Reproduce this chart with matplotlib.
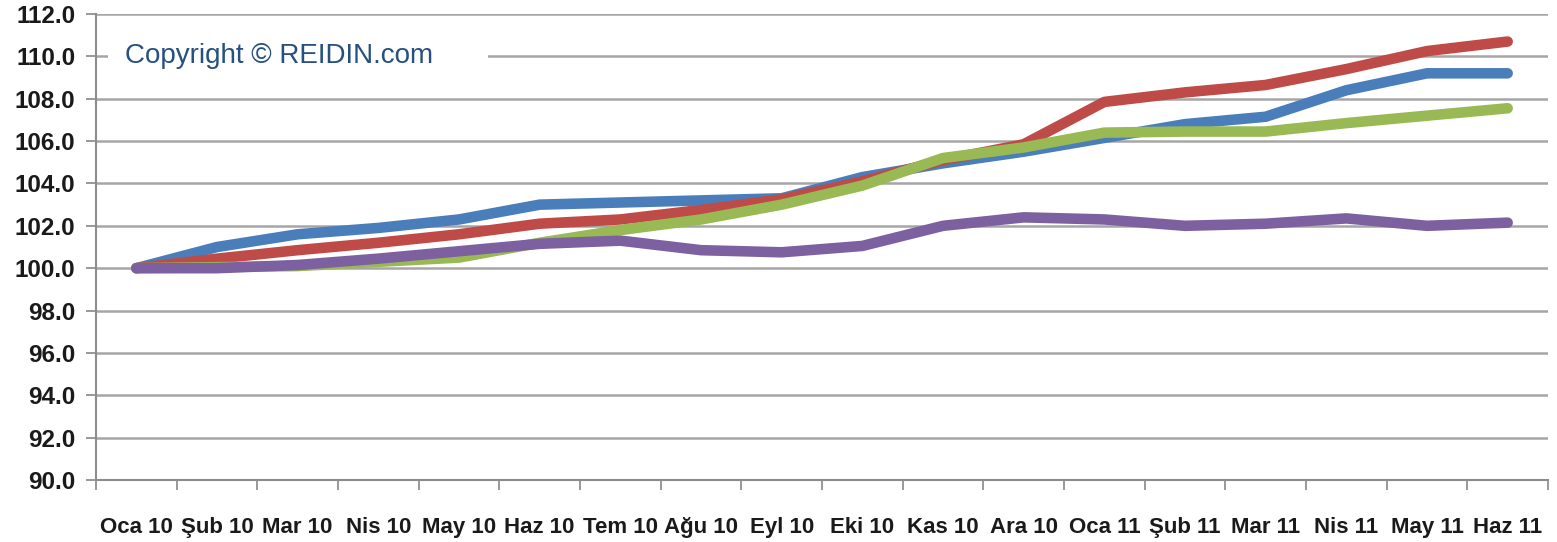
import matplotlib
matplotlib.use("Agg")
import matplotlib.pyplot as plt
from matplotlib.patches import Rectangle
import numpy as np

plt.rcParams['font.family'] = ['Liberation Sans', 'DejaVu Sans']

months = ['Oca 10', 'Şub 10', 'Mar 10', 'Nis 10', 'May 10', 'Haz 10', 'Tem 10', 'Ağu 10', 'Eyl 10',
          'Eki 10', 'Kas 10', 'Ara 10', 'Oca 11', 'Şub 11', 'Mar 11', 'Nis 11', 'May 11', 'Haz 11']

blue = [100.0, 101.0, 101.6, 101.9, 102.3, 103.0, 103.1, 103.2, 103.3,
        104.3, 104.95, 105.5, 106.15, 106.8, 107.15, 108.4, 109.2, 109.2]
red = [100.0, 100.45, 100.85, 101.2, 101.6, 102.1, 102.3, 102.75, 103.25,
       104.1, 105.1, 105.85, 107.85, 108.3, 108.65, 109.4, 110.25, 110.7]
green = [100.0, 100.05, 100.1, 100.3, 100.5, 101.2, 101.8, 102.3, 103.0,
         103.9, 105.2, 105.7, 106.4, 106.45, 106.45, 106.85, 107.2, 107.55]
purple = [100.0, 100.0, 100.15, 100.45, 100.8, 101.15, 101.3, 100.85, 100.75,
          101.05, 102.0, 102.4, 102.3, 102.0, 102.1, 102.35, 102.0, 102.15]

yticks = np.arange(90, 112.1, 2)

fig = plt.figure(figsize=(15.57, 5.42), dpi=100)
ax = fig.add_axes([96 / 1557, 1 - 480 / 542, 1452 / 1557, 466 / 542])

x = np.arange(len(months))
for vals, col in [(blue, '#4A7EBB'), (red, '#BE4B48'), (green, '#98B954'), (purple, '#7D60A0')]:
    ax.plot(x, vals, color=col, lw=7.6, solid_capstyle='round', solid_joinstyle='round', zorder=3)

ax.set_xlim(-0.5, len(months) - 0.5)
ax.set_ylim(90, 112)
ax.set_yticks(yticks)
ax.set_yticklabels([f'{v:.1f}' for v in yticks], fontsize=17.5, fontweight='bold', color='#1a1a1a')
ax.set_xticks(x)
ax.set_xticklabels(months, fontsize=16, fontweight='bold', color='#1a1a1a')
for lab in ax.get_xticklabels():
    lab.set_verticalalignment('baseline')
ax.set_xticks(np.arange(-0.5, len(months)), minor=True)
ax.tick_params(axis='x', which='major', length=0, pad=38)
ax.tick_params(axis='x', which='minor', length=7, color='#888888', width=1.2)
ax.tick_params(axis='y', length=7, color='#888888', width=1.2, pad=8)

ax.grid(axis='y', color='#A6A6A6', lw=1.8, zorder=1)
for s in ['top', 'right']:
    ax.spines[s].set_visible(False)
for s in ['left', 'bottom']:
    ax.spines[s].set_color('#8C8C8C')
    ax.spines[s].set_linewidth(1.5)

# white patch behind the watermark text hides the 110 gridline
ax.add_patch(Rectangle((12 / 1452, 108.8), 380 / 1452, 2.4, transform=ax.get_yaxis_transform(),
                       facecolor='white', edgecolor='none', zorder=2))
ax.text(29 / 1452, 110.0, 'Copyright © REIDIN.com', transform=ax.get_yaxis_transform(),
        fontsize=20, color='#25507F', va='center', ha='left', zorder=2.5)

fig.savefig('out.png', dpi=100)
